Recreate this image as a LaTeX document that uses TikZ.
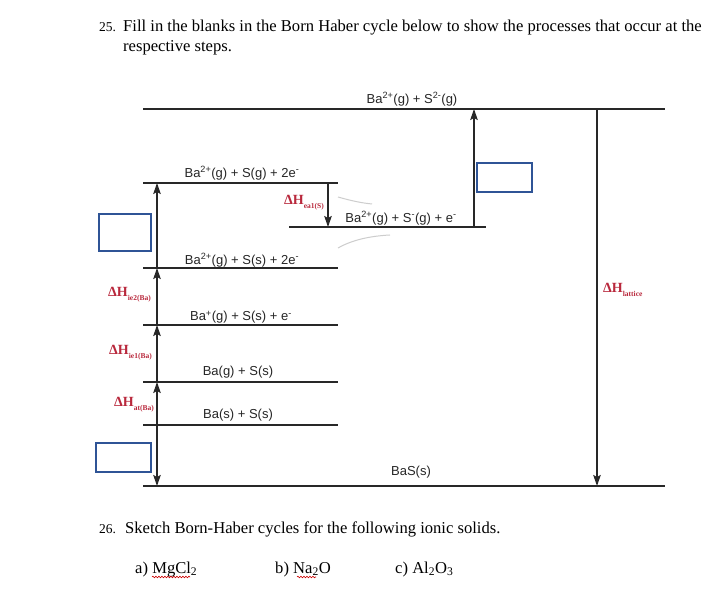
\documentclass[tikz,border=0pt]{standalone}
\usepackage{fontspec}
\setmainfont{Liberation Serif}
\newfontfamily\arial{Liberation Sans}
\usetikzlibrary{arrows.meta,decorations.pathmorphing}
\definecolor{ink}{RGB}{40,40,40}
\definecolor{redlab}{RGB}{185,40,60}
\definecolor{boxblue}{RGB}{47,84,150}
\definecolor{faint}{RGB}{205,205,205}
\newcommand{\dHlab}[1]{ΔH\raisebox{-4pt}{\fontsize{7.5}{8}\selectfont #1}}
\begin{document}
\begin{tikzpicture}[x=1pt,y=-1pt,
  level/.style={draw=ink, line width=1.5pt},
  arr/.style={draw=ink, line width=1.5pt, -{Stealth[length=11pt,width=7.5pt,inset=2pt]}},
  chem/.style={font=\arial\fontsize{13}{15}\selectfont, inner sep=0pt, text=black!85},
  dh/.style={font=\bfseries\fontsize{14}{16}\selectfont, text=redlab, inner sep=0pt, anchor=west},
  blank/.style={draw=boxblue, line width=1.1pt},
  ques/.style={font=\fontsize{16.6}{19}\selectfont, anchor=base west, inner sep=0pt},
  wave/.style={draw=red!80!black, line width=0.6pt, decorate, decoration={snake, amplitude=0.8pt, segment length=3pt}}]
\useasboundingbox (0,0) rectangle (728,601);
\fill[white] (0,0) rectangle (728,601);

% question 25
\node[ques, font=\fontsize{13.5}{16}\selectfont] (q25n) at (99,32) {25.};
\node[ques] (q25a) at (123,32) {Fill in the blanks in the Born Haber cycle below to show the processes that occur at the};
\node[ques] (q25b) at (123,52) {respective steps.};

% level end points
\coordinate (L1w) at (143,109); \coordinate (L1e) at (665,109);
\coordinate (L2w) at (143,183); \coordinate (L2e) at (338,183);
\coordinate (L3w) at (289,227); \coordinate (L3e) at (486,227);
\coordinate (L4w) at (143,268); \coordinate (L4e) at (338,268);
\coordinate (L5w) at (143,325); \coordinate (L5e) at (338,325);
\coordinate (L6w) at (143,382); \coordinate (L6e) at (338,382);
\coordinate (L7w) at (143,425); \coordinate (L7e) at (338,425);
\coordinate (L8w) at (143,486); \coordinate (L8e) at (665,486);
\foreach \i in {1,...,8} \draw[level] (L\i w) -- (L\i e);

% level labels
\node[chem] (t1) at (412,99) {Ba\textsuperscript{2+}(g) + S\textsuperscript{2-}(g)};
\node[chem] (t2) at (242,173) {Ba\textsuperscript{2+}(g) + S(g) + 2e\textsuperscript{-}};
\node[chem] (t3) at (401,218) {Ba\textsuperscript{2+}(g) + S\textsuperscript{-}(g) + e\textsuperscript{-}};
\node[chem] (t4) at (242,260) {Ba\textsuperscript{2+}(g) + S(s) + 2e\textsuperscript{-}};
\node[chem] (t5) at (241,317) {Ba\textsuperscript{+}(g) + S(s) + e\textsuperscript{-}};
\node[chem] (t6) at (238,372) {Ba(g) + S(s)};
\node[chem] (t7) at (238,415) {Ba(s) + S(s)};
\node[chem] (t8) at (411,472) {BaS(s)};

% arrow columns
\coordinate (v2) at (157,183); \coordinate (v4) at (157,268);
\coordinate (v5) at (157,325); \coordinate (v6) at (157,382);
\coordinate (v7) at (157,425); \coordinate (v8) at (157,486);
\draw[arr] (v7) -- (v6);
\draw[arr] (v6) -- (v5);
\draw[arr] (v5) -- (v4);
\draw[arr] (v4) -- (v2);
\draw[arr] (v7) -- (v8);
\coordinate (e2) at (328,183); \coordinate (e3) at (328,227);
\draw[arr] (e2) -- (e3);
\coordinate (r3) at (474,227); \coordinate (r1) at (474,109);
\draw[arr] (r3) -- (r1);
\coordinate (k1) at (597,109); \coordinate (k8) at (597,486);
\draw[arr] (k1) -- (k8);

% enthalpy labels
\node[dh] (h1) at (108,295) {\dHlab{ie2(Ba)}};
\node[dh] (h2) at (109,353) {\dHlab{ie1(Ba)}};
\node[dh] (h3) at (114,405) {\dHlab{at(Ba)}};
\node[dh] (h4) at (284,203) {\dHlab{ea1(S)}};
\node[dh] (h5) at (603,290) {\dHlab{lattice}};

% blanks
\draw[blank] (99,214) rectangle (151,251);
\draw[blank] (477,163) rectangle (532,192);
\draw[blank] (96,443) rectangle (151,472);

% faint marks
\draw[faint, line width=1pt] (338,197) .. controls (352,201) and (362,203) .. (372,204);
\draw[faint, line width=1pt] (338,248) .. controls (352,240) and (370,236) .. (390,235);

% question 26
\node[ques, font=\fontsize{13.5}{16}\selectfont] (q26n) at (99,533) {26.};
\node[ques] (q26a) at (125,533) {Sketch Born-Haber cycles for the following ionic solids.};
\node[ques] (qa) at (135,573) {a) MgCl\textsubscript{2}};
\node[ques] (qb) at (275,573) {b) Na\textsubscript{2}O};
\node[ques] (qc) at (395,573) {c) Al\textsubscript{2}O\textsubscript{3}};
\draw[wave] (152,577) -- (190,577);
\draw[wave] (297,577) -- (316,577);
\end{tikzpicture}
\end{document}
